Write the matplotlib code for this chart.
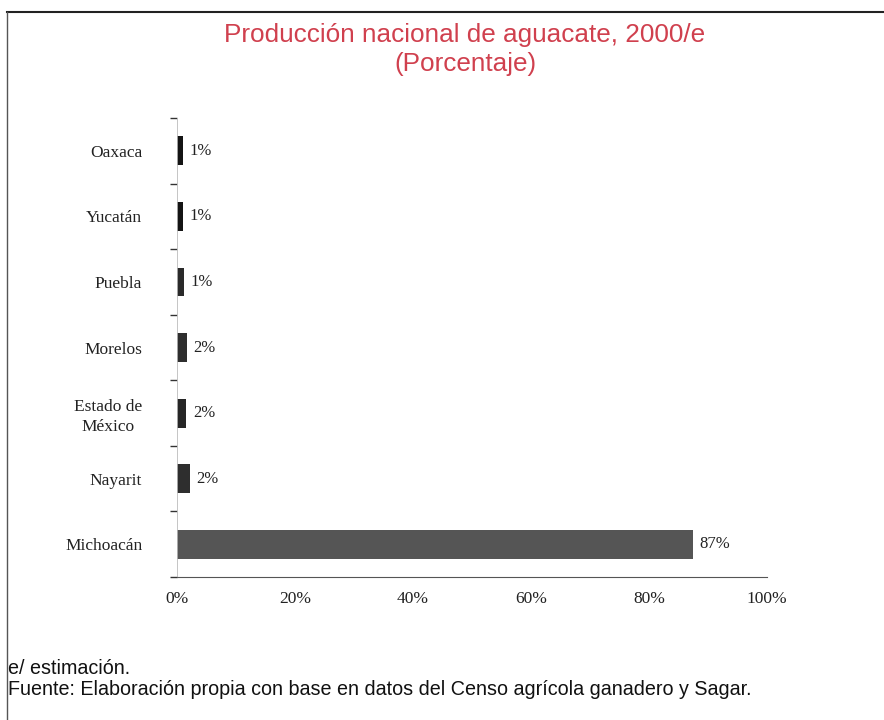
import matplotlib.pyplot as plt
from matplotlib.lines import Line2D
import numpy as np

# data (percent of national avocado production)
states = ['Michoacán', 'Nayarit', 'Estado de\nMéxico', 'Morelos', 'Puebla', 'Yucatán', 'Oaxaca']
shares = [87.4, 2.2, 1.6, 1.7, 1.2, 1.0, 1.0]
xticks = [0, 20, 40, 60, 80, 100]

bar_colors = ['#555555', '#2e2e2e', '#262626', '#2e2e2e', '#2a2a2a', '#141414', '#141414']

fig = plt.figure(figsize=(8.84, 7.2), dpi=100)
ax = fig.add_axes([0.2002, 0.1986, 0.6674, 0.6375])

y = np.arange(len(states))
ax.barh(y, shares, height=0.44, color=bar_colors)

for yi, v in zip(y, shares):
    ax.text(v + 1.1, yi, f'{round(v)}%', va='center', ha='left',
            fontsize=12, family='Liberation Serif', color='#222222')

ax.set_xlim(0, 100)
ax.set_ylim(-0.5, len(states) - 0.5)
ax.set_xticks(xticks)
ax.set_xticklabels([f'{t}%' for t in xticks], family='Liberation Serif', fontsize=12.5, color='#222222')
ax.set_yticks(y)
ax.set_yticklabels(states, family='Liberation Serif', fontsize=12.5, color='#222222',
                   multialignment='center', linespacing=1.3)
ax.set_yticks(np.arange(len(states) + 1) - 0.5, minor=True)
ax.tick_params(axis='y', which='major', length=0, pad=25)
ax.tick_params(axis='y', which='minor', length=5, width=1, color='#333333')
ax.tick_params(axis='x', length=0, pad=10)

for s in ['top', 'right']:
    ax.spines[s].set_visible(False)
ax.spines['bottom'].set_color('#555555')
ax.spines['left'].set_color('#bbbbbb')
ax.spines['left'].set_linewidth(0.6)

fig.text(0.526, 0.952, 'Producción nacional de aguacate, 2000/e', ha='center', va='center',
         fontsize=18.8, family='Liberation Sans', color='#d0404e')
fig.text(0.526, 0.911, '(Porcentaje)', ha='center', va='center',
         fontsize=18.8, family='Liberation Sans', color='#d0404e')

fig.text(0.009, 0.072, 'e/ estimación.', ha='left', va='center',
         fontsize=14.2, family='Liberation Sans', color='#111111')
fig.text(0.009, 0.043, 'Fuente: Elaboración propia con base en datos del Censo agrícola ganadero y Sagar.',
         ha='left', va='center', fontsize=14.2, family='Liberation Sans', color='#111111')

# frame lines of the original box
fig.add_artist(Line2D([0.008, 1.0], [0.984, 0.984], color='#222222', lw=1.5))
fig.add_artist(Line2D([0.008, 0.008], [0.0, 0.984], color='#555555', lw=1.0))

fig.savefig('out.png', dpi=100)
